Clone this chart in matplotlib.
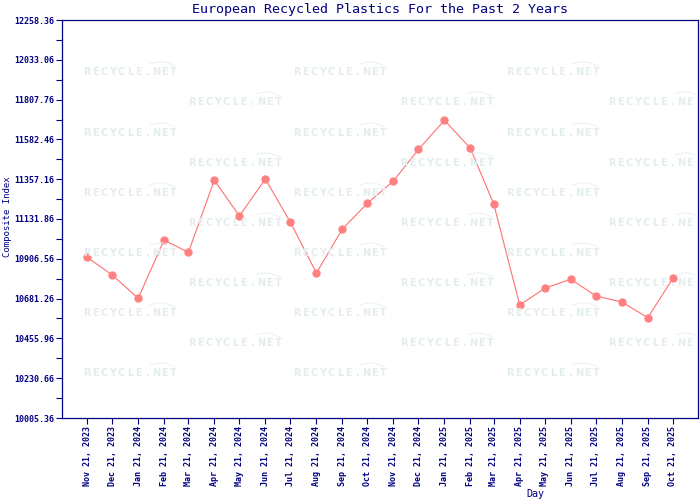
import matplotlib
matplotlib.use("Agg")
import matplotlib.pyplot as plt
import matplotlib.dates as mdates
from matplotlib.ticker import FixedLocator
import numpy as np
import datetime as dt

# data
dates = ["2023-11-21", "2023-12-21", "2024-01-21", "2024-02-21", "2024-03-21",
         "2024-04-21", "2024-05-21", "2024-06-21", "2024-07-21", "2024-08-21",
         "2024-09-21", "2024-10-21", "2024-11-21", "2024-12-21", "2025-01-21",
         "2025-02-21", "2025-03-21", "2025-04-21", "2025-05-21", "2025-06-21",
         "2025-07-21", "2025-08-21", "2025-09-21", "2025-10-21"]
values = [10915, 10815, 10683, 11013, 10943, 11351, 11149, 11358, 11113, 10826,
          11075, 11221, 11347, 11526, 11691, 11532, 11215, 10645, 10740, 10791,
          10696, 10662, 10573, 10796]
yticks = [10005.36, 10230.66, 10455.96, 10681.26, 10906.56, 11131.86,
          11357.16, 11582.46, 11807.76, 12033.06, 12258.36]

navy = "#000080"
mono = "DejaVu Sans Mono"

x = [dt.datetime.strptime(d, "%Y-%m-%d") for d in dates]

fig = plt.figure(figsize=(7, 5), dpi=100)
ax = fig.add_axes([62/700, 82/500, 636/700, 398/500])

# watermark, letters past the right border are left out
def watermark(cx, cy):
    step = 8.7
    txt = "RECYCLE.NET"
    x0 = cx - step * (len(txt) - 1) / 2
    for i, ch in enumerate(txt):
        px = x0 + i*step
        if px > 693:
            continue
        fig.text(px/700, 1 - cy/500, ch, family="DejaVu Sans",
                 weight="bold", fontsize=7, color="#e4eded", ha="center",
                 va="center", zorder=0.5)
    t = np.linspace(0, 1, 20)
    sx = cx + 20 + 25*t
    sy = cy - 8 - 3*np.sin(np.pi*t) + 2*t
    keep = sx < 697
    fig.add_artist(plt.Line2D(sx[keep]/700, 1 - sy[keep]/500, color="#e6eded",
                              lw=0.6, zorder=0.5))

for i, ry in enumerate([72, 102, 133, 163, 193, 223, 253, 283, 313, 343, 373]):
    cols = [130, 340, 553] if i % 2 == 0 else [235, 447, 655]
    for cx in cols:
        watermark(cx, ry)

ax.set_facecolor("none")
ax.plot(x, values, color="#ff7070", lw=0.8, marker="o", ms=5,
        markerfacecolor="#ff8080", markeredgecolor="#ff8080", zorder=3)

ax.set_xlim(dt.datetime(2023, 10, 22), dt.datetime(2025, 11, 20))
ax.set_ylim(yticks[0], yticks[-1])

ax.set_xticks(x)
ax.xaxis.set_major_formatter(mdates.DateFormatter("%b %d, %Y"))
ax.set_yticks(yticks)
ax.set_yticklabels(["%.2f" % v for v in yticks])
mids = [(a + b) / 2 for a, b in zip(yticks[:-1], yticks[1:])]
ax.yaxis.set_minor_locator(FixedLocator(mids))

ax.tick_params(axis="x", direction="out", length=4, width=0.8, color=navy,
               labelcolor=navy, labelrotation=90, pad=1.5)
ax.tick_params(axis="y", which="both", direction="out", length=4, width=0.8,
               color=navy, labelcolor=navy, pad=1.5)
for lab in ax.get_xticklabels() + ax.get_yticklabels():
    lab.set_family(mono)
    lab.set_fontsize(6)
    lab.set_weight("bold")

for s in ax.spines.values():
    s.set_color(navy)
    s.set_linewidth(0.9)

fig.text(380/700, 1 - 9/500, "European Recycled Plastics For the Past 2 Years",
         family=mono, fontsize=9.6, color=navy, ha="center", va="center")
fig.text(8/700, 1 - 217/500, "Composite Index", family=mono, fontsize=6.5,
         color=navy, rotation=90, ha="center", va="center")
fig.text(535/700, 1 - 494/500, "Day", family=mono, fontsize=7.2, color=navy,
         ha="center", va="center")

fig.savefig("out.png", dpi=100)
